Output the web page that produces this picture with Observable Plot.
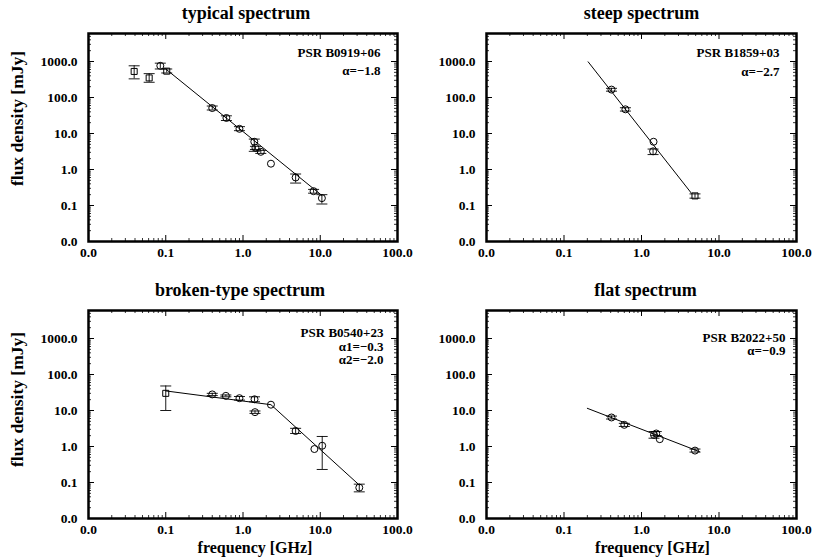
<!DOCTYPE html>
<html><head><meta charset="utf-8">
<script src="https://cdn.jsdelivr.net/npm/d3@7"></script>
<script src="https://cdn.jsdelivr.net/npm/@observablehq/plot@0.6"></script>
<style>
body{margin:0;background:#fff;}
#chart{position:relative;width:814px;height:559px;overflow:hidden;background:#fff;}
#chart svg{position:absolute;overflow:visible;}
</style></head><body><div id="chart"></div>
<script>
// ---------- axis ticks ----------
const xTicks = [0.01, 0.1, 1, 10, 100];
const xTickLabels = ["0.0", "0.1", "1.0", "10.0", "100.0"];
const yTicks = [0.01, 0.1, 1, 10, 100, 1000];
const yTickLabels = ["0.0", "0.1", "1.0", "10.0", "100.0", "1000.0"];
const xDomain = [0.01, 100];
const yDomain = [0.01, 6000];

// ---------- typical spectrum: PSR B0919+06 ----------
const typicalFreq = [0.039, 0.061, 0.085, 0.103, 0.40, 0.61, 0.90, 1.40, 1.45, 1.70, 2.30, 4.80, 8.20, 10.5];
const typicalFlux = [530, 350, 760, 540, 51, 27, 13.5, 5.9, 4.0, 3.1, 1.45, 0.60, 0.25, 0.16];
const typicalLo   = [330, 265, 620, 480, 45, 23, 12.0, 3.2, 3.6, 2.8, null, 0.42, 0.22, 0.11];
const typicalHi   = [760, 460, 900, 620, 58, 31, 15.5, 7.0, 4.4, 3.4, null, 0.75, 0.28, 0.20];
const typicalSym  = ["square","square","circle","square","circle","circle","circle","circle","circle","circle","circle","circle","circle","circle"];
const typicalFitFreq = [0.1, 10.5];
const typicalFitFlux = [620, 0.19];

// ---------- steep spectrum: PSR B1859+03 ----------
const steepFreq = [0.41, 0.62, 1.43, 1.41, 4.9];
const steepFlux = [166, 47, 5.9, 3.2, 0.185];
const steepLo   = [150, 42, null, 2.6, 0.16];
const steepHi   = [180, 52, null, 3.7, 0.21];
const steepSym  = ["circle","circle","circle","circle","square"];
const steepFitFreq = [0.205, 4.4];
const steepFitFlux = [980, 0.22];

// ---------- broken-type spectrum: PSR B0540+23 ----------
const brokenFreq = [0.10, 0.40, 0.60, 0.90, 1.41, 1.43, 2.30, 4.80, 8.40, 10.6, 32];
const brokenFlux = [30, 28, 25.5, 22, 20.5, 9.0, 14.5, 2.7, 0.85, 1.05, 0.072];
const brokenLo   = [10, 26, 24, 19.5, 17.5, 8.3, null, 2.3, null, 0.23, 0.055];
const brokenHi   = [48, 30, 27, 24.5, 24, 9.7, null, 3.2, null, 1.9, 0.09];
const brokenSym  = ["square","circle","circle","circle","circle","circle","circle","circle","circle","circle","circle"];
const brokenFitFreq = [0.1, 2.3, 32];
const brokenFitFlux = [35, 14.5, 0.085];

// ---------- flat spectrum: PSR B2022+50 ----------
const flatFreq = [0.41, 0.60, 1.45, 1.55, 1.72, 4.9];
const flatFlux = [6.4, 4.0, 2.1, 2.3, 1.6, 0.77];
const flatLo   = [5.8, 3.6, 1.7, 2.0, null, 0.70];
const flatHi   = [7.0, 4.4, 2.6, 2.6, null, 0.85];
const flatSym  = ["circle","circle","circle","circle","circle","circle"];
const flatFitFreq = [0.2, 5.6];
const flatFitFlux = [11.5, 0.72];

const panelTitles = ["typical spectrum", "steep spectrum", "broken-type spectrum", "flat spectrum"];
const panelNotes = [
  ["PSR B0919+06", "α=−1.8"],
  ["PSR B1859+03", "α=−2.7"],
  ["PSR B0540+23", "α1=−0.3", "α2=−2.0"],
  ["PSR B2022+50", "α=−0.9"]
];
const yAxisLabel = "flux density [mJy]";
const xAxisLabel = "frequency [GHz]";

// ---------- helpers ----------
const FONT = '"Liberation Serif", "DejaVu Serif", serif';
function rows(f, s, lo, hi, sym) {
  return f.map((d, i) => ({f: d, s: s[i], lo: lo[i], hi: hi[i], sym: sym[i]}));
}
function fitRows(f, s) { return f.map((d, i) => ({f: d, s: s[i]})); }
function minorTicks(lo, hi) {
  const out = [];
  for (let e = -2; e <= 3; e++) for (let k = 2; k < 10; k++) {
    const v = k * Math.pow(10, e);
    if (v > lo && v < hi) out.push(v);
  }
  return out;
}
const xMinor = minorTicks(xDomain[0], xDomain[1]);
const yMinor = minorTicks(yDomain[0], yDomain[1]);
const xLab = new Map(xTicks.map((t, i) => [t, xTickLabels[i]]));
const yLab = new Map(yTicks.map((t, i) => [t, yTickLabels[i]]));

const capSymbol = {draw(ctx) { ctx.moveTo(-5.5, 0); ctx.lineTo(5.5, 0); }};

function panel(cfg) {
  const {pts, fit, title, notes, left, top, width, height, m, titleDx, noteDx, noteDy, yLabelDy, showXLabel, showYLabel, xLabelDx} = cfg;
  const FW = width - m.left - m.right;
  const FH = height - m.top - m.bottom;
  const err = pts.filter(d => d.lo != null);
  const marks = [
    // inward tick marks, all four sides
    Plot.tickX(xTicks, {x: d => d, insetTop: FH - 6, strokeWidth: 1}),
    Plot.tickX(xTicks, {x: d => d, insetBottom: FH - 6, strokeWidth: 1}),
    Plot.tickX(xMinor, {x: d => d, insetTop: FH - 3, strokeWidth: 0.8}),
    Plot.tickX(xMinor, {x: d => d, insetBottom: FH - 3, strokeWidth: 0.8}),
    Plot.tickY(yTicks, {y: d => d, insetRight: FW - 6, strokeWidth: 1}),
    Plot.tickY(yTicks, {y: d => d, insetLeft: FW - 6, strokeWidth: 1}),
    Plot.tickY(yMinor, {y: d => d, insetRight: FW - 3, strokeWidth: 0.8}),
    Plot.tickY(yMinor, {y: d => d, insetLeft: FW - 3, strokeWidth: 0.8}),
    Plot.axisX(xTicks, {tickSize: 0, tickPadding: 6, tickFormat: d => xLab.get(d), fontSize: 13.5, label: null}),
    Plot.axisY(yTicks, {tickSize: 0, tickPadding: 11, tickFormat: d => yLab.get(d), fontSize: 13.5, label: null}),
    Plot.line(fit, {x: "f", y: "s", stroke: "black", strokeWidth: 1}),
    Plot.ruleX(err, {x: "f", y1: "lo", y2: "hi", stroke: "black", strokeWidth: 0.9}),
    Plot.dot(err, {x: "f", y: "lo", symbol: capSymbol, stroke: "black", strokeWidth: 0.9}),
    Plot.dot(err, {x: "f", y: "hi", symbol: capSymbol, stroke: "black", strokeWidth: 0.9}),
    Plot.dot(pts.filter(d => d.sym === "circle"), {x: "f", y: "s", symbol: "circle", r: 3.5, stroke: "black", fill: "none", strokeWidth: 1}),
    Plot.dot(pts.filter(d => d.sym === "square"), {x: "f", y: "s", symbol: "square", r: 3.4, stroke: "black", fill: "none", strokeWidth: 1}),
    Plot.frame({stroke: "black", strokeWidth: 2.5}),
    Plot.text([title], {frameAnchor: "top", dx: titleDx, dy: -20, textAnchor: "middle", lineAnchor: "middle", fontSize: 18, fontWeight: "bold"}),
  ];
  notes.forEach((n, i) => {
    marks.push(Plot.text([n], {frameAnchor: "top-right", dx: noteDx, dy: noteDy[i], textAnchor: "end", lineAnchor: "middle", fontSize: 13, fontWeight: "bold"}));
  });
  if (showYLabel) marks.push(Plot.text([yAxisLabel], {frameAnchor: "left", dx: -71, dy: yLabelDy, rotate: -90, textAnchor: "middle", lineAnchor: "middle", fontSize: 17.5, fontWeight: "bold"}));
  if (showXLabel) marks.push(Plot.text([xAxisLabel], {frameAnchor: "bottom", dx: xLabelDx, dy: 29, textAnchor: "middle", lineAnchor: "middle", fontSize: 16, fontWeight: "bold"}));
  const svg = Plot.plot({
    width, height,
    marginLeft: m.left, marginRight: m.right, marginTop: m.top, marginBottom: m.bottom,
    x: {type: "log", domain: xDomain, axis: null},
    y: {type: "log", domain: yDomain, axis: null},
    style: {fontFamily: FONT, fontWeight: "bold", fontSize: "13.5px", background: "none", color: "black", overflow: "visible"},
    marks
  });
  svg.style.left = left + "px";
  svg.style.top = top + "px";
  document.getElementById("chart").appendChild(svg);
}

panel({pts: rows(typicalFreq, typicalFlux, typicalLo, typicalHi, typicalSym), fit: fitRows(typicalFitFreq, typicalFitFlux),
  title: panelTitles[0], notes: panelNotes[0], left: 0, top: 0, width: 420, height: 270,
  m: {left: 88, right: 23, top: 33, bottom: 29}, titleDx: 3, noteDx: -17, noteDy: [19, 37], yLabelDy: -19, showYLabel: true});
panel({pts: rows(steepFreq, steepFlux, steepLo, steepHi, steepSym), fit: fitRows(steepFitFreq, steepFitFlux),
  title: panelTitles[1], notes: panelNotes[1], left: 404, top: 0, width: 410, height: 270,
  m: {left: 82, right: 18, top: 33, bottom: 29}, titleDx: 0, noteDx: -17, noteDy: [19, 38]});
panel({pts: rows(brokenFreq, brokenFlux, brokenLo, brokenHi, brokenSym), fit: fitRows(brokenFitFreq, brokenFitFlux),
  title: panelTitles[2], notes: panelNotes[2], left: 0, top: 270, width: 420, height: 289,
  m: {left: 88, right: 23, top: 40, bottom: 41}, titleDx: -3, noteDx: -14, noteDy: [22.5, 36, 49.5], yLabelDy: -15, showYLabel: true, showXLabel: true, xLabelDx: 12});
panel({pts: rows(flatFreq, flatFlux, flatLo, flatHi, flatSym), fit: fitRows(flatFitFreq, flatFitFlux),
  title: panelTitles[3], notes: panelNotes[3], left: 404, top: 270, width: 410, height: 289,
  m: {left: 82, right: 18, top: 40, bottom: 41}, titleDx: 4, noteDx: -11, noteDy: [27, 40.5], showXLabel: true, xLabelDx: 11});
</script></body></html>
